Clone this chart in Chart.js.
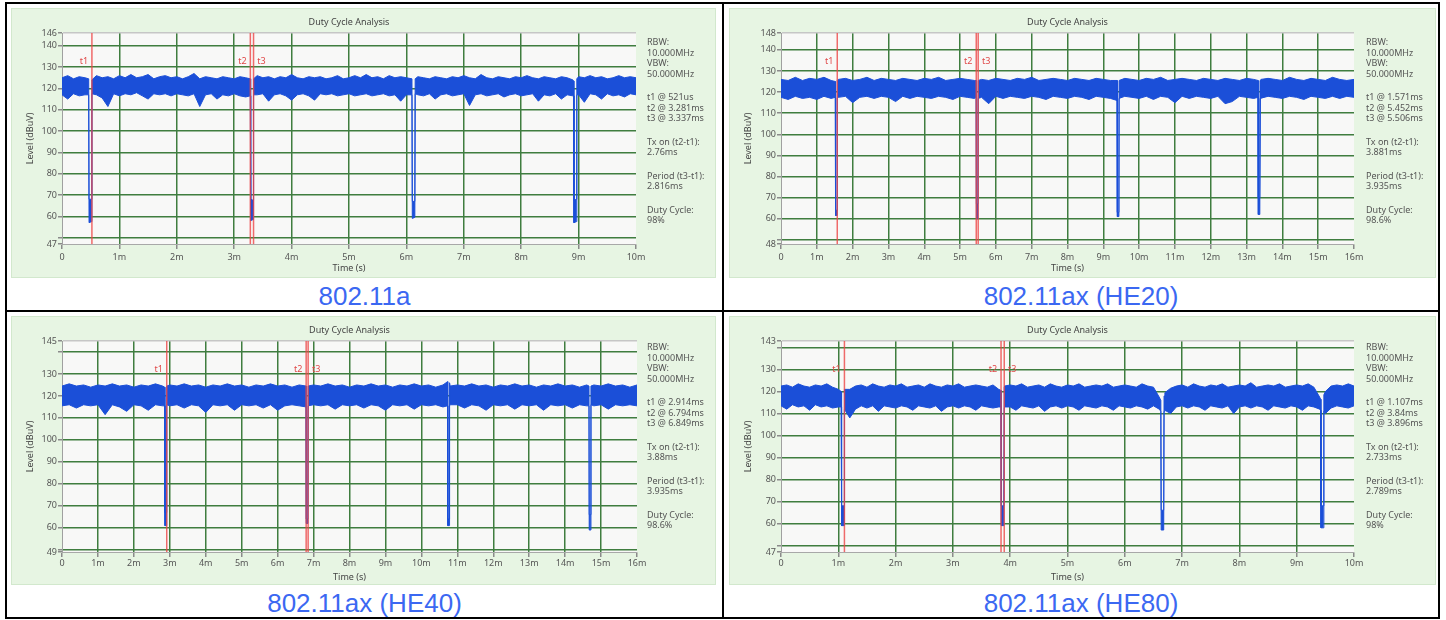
<!DOCTYPE html>
<html lang="en">
<head>
<meta charset="UTF-8" />
<title>Duty Cycle Analysis</title>
<script src="https://cdn.jsdelivr.net/npm/chart.js"></script>
<style>
  body { margin: 0; width: 1446px; height: 620px; background: #fff; position: relative; overflow: hidden; font-family: 'Noto Sans', sans-serif; }
  .rule { position: absolute; background: #000; }
  .notes { position: absolute; font-size: 9px; color: #555; white-space: nowrap; }
  .notes div { height: 10.5px; line-height: 10.5px; }
  .notes div.gap { height: 13px; }
  .caption { position: absolute; height: 30px; line-height: 30px; text-align: center; font-family: 'Liberation Sans', Arial, sans-serif; font-size: 26px; color: #3b68f2; }
</style>
</head>
<body>

<div class="rule" style="left:5px;top:2px;width:1435px;height:2px"></div>
<div class="rule" style="left:5px;top:617px;width:1435px;height:2px"></div>
<div class="rule" style="left:5px;top:2px;width:2px;height:617px"></div>
<div class="rule" style="left:1438px;top:2px;width:2px;height:617px"></div>
<div class="rule" style="left:722px;top:2px;width:2px;height:617px"></div>
<div class="rule" style="left:5px;top:310px;width:1435px;height:2px"></div>

<script>
// ---- 802.11a ----
const aT  = [0,0.1,0.2,0.3,0.4,0.465,0.471,0.515,0.521,
  0.6,0.7,0.8,0.9,1.0,1.1,1.2,1.3,1.4,1.5,1.6,1.7,1.8,1.9,2.0,2.1,2.2,2.3,2.4,2.5,2.6,2.7,2.8,2.9,3.0,3.1,3.2,
  3.281,3.287,3.331,3.337,
  3.4,3.5,3.6,3.7,3.8,3.9,4.0,4.1,4.2,4.3,4.4,4.5,4.6,4.7,4.8,4.9,5.0,5.1,5.2,5.3,5.4,5.5,5.6,5.7,5.8,5.9,6.0,
  6.097,6.103,6.147,6.153,
  6.2,6.3,6.4,6.5,6.6,6.7,6.8,6.9,7.0,7.1,7.2,7.3,7.4,7.5,7.6,7.7,7.8,7.9,8.0,8.1,8.2,8.3,8.4,8.5,8.6,8.7,8.8,8.9,
  8.913,8.919,8.963,8.969,
  9.0,9.1,9.2,9.3,9.4,9.5,9.6,9.7,9.8,9.9,10.0];
const aHi = [125,126,124.5,125.5,125,124.5,68,68,124,
  126,125,125.5,124.5,126,125,126.5,125,125.5,126.5,124.5,125.5,126,125,125.5,124.5,125.5,127,124.5,125.5,125,124.5,125.5,125,124.5,125.5,125,
  124.5,68,67.5,124.5,
  126,125,125.5,124.5,125.5,125,126.5,125,124.5,125.5,125,125.5,124.5,125,126,124.5,125,126,125,126.5,125,125.5,124.5,126,125,125.5,125,
  124.5,67,67,124.5,
  125.5,125,124.5,125.5,125,124.5,125.5,125,126,125,124.5,126.5,125,124.5,125.5,125,124.5,125.5,125,126,125,124.5,125.5,125,124.5,125.5,125,124,
  123.5,67.5,68,124.5,
  125.5,125,126,125,125.5,124.5,125,126,125,125.5,125];
const aLo = [117,115,117.5,116.5,117,117,57,57.5,117.5,
  117,115.5,111.5,117.5,116.5,117.5,117,118,116.5,115,117.5,117,117.5,116.5,117.5,117,116.5,117.5,111.5,117,117.5,115,117,116.5,117.5,116.5,116,
  116.5,58,58.5,117,
  117,117.5,114,117,117.5,116.5,114.5,117,117.5,116.5,114.5,117.5,117,117.5,116.5,117,117.5,116.5,117,117.5,116.5,117,117.5,116.5,117,114,117,
  117,59,59.5,117.5,
  117,116.5,117.5,115,117,117.5,116.5,117,117.5,112,117,117.5,116.5,117,117.5,116,117,117.5,116.5,117,117.5,114,117,116.5,117.5,115,117,116.5,
  116.5,57,57.5,117,
  117,113.5,117.5,117,115,117.5,116.5,117,116,117.5,117];
const aMarks = [0.521, 3.281, 3.337];
const aYTicks = [47,50,60,70,80,90,100,110,120,130,140,146];
const aYLabels = ['47','','60','70','80','90','100','110','120','130','140','146'];
const aNotes = ['RBW:','10.000MHz','VBW:','50.000MHz','','t1 @ 521us','t2 @ 3.281ms','t3 @ 3.337ms','','Tx on (t2-t1):','2.76ms','','Period (t3-t1):','2.816ms','','Duty Cycle:','98%'];

// ---- 802.11ax (HE20) ----
const bT  = [0,0.2,0.4,0.6,0.8,1.0,1.2,1.4,
  1.517,1.523,1.565,1.571,
  1.6,1.8,2.0,2.2,2.4,2.6,2.8,3.0,3.2,3.4,3.6,3.8,4.0,4.2,4.4,4.6,4.8,5.0,5.2,5.4,
  5.452,5.458,5.5,5.506,
  5.6,5.8,6.0,6.2,6.4,6.6,6.8,7.0,7.2,7.4,7.6,7.8,8.0,8.2,8.4,8.6,8.8,9.0,9.2,
  9.387,9.393,9.435,9.441,
  9.6,9.8,10.0,10.2,10.4,10.6,10.8,11.0,11.2,11.4,11.6,11.8,12.0,12.2,12.4,12.6,12.8,13.0,13.2,
  13.322,13.328,13.37,13.376,
  13.4,13.6,13.8,14.0,14.2,14.4,14.6,14.8,15.0,15.2,15.4,15.6,15.8,16.0];
const bHi = [126,125.5,127,125.5,126.5,126,127,125.5,
  125,64,64,125.5,
  126,126.5,125.5,126,127,125.5,126.5,126,125.5,126.5,126,125.5,126.5,126,127,125.5,126,126.5,126,125.5,
  125.5,67,67,125.5,
  126,125.5,126.5,126,125.5,126.5,126,127,125.5,126,126.5,126,125.5,126.5,126,125.5,126.5,126,125.5,
  125.5,63,63,125.5,
  126.5,126,125.5,126.5,126,127,125.5,126,126.5,126,125.5,126.5,126,125.5,126.5,126,125.5,126.5,126,
  125.5,70,70,125.5,
  126,126.5,126,125.5,127,126,125.5,126.5,126,125.5,127,126,125.5,126];
const bLo = [117.5,116.5,118,117,117.5,116.5,118,117,
  117.5,61.5,61.5,117,
  117.5,118,115,117.5,118,117,118,117.5,115.5,118,117,118,117.5,117,118,117.5,116.5,118,117.5,117,
  117.5,60,60,117,
  117.5,114.5,118,117,118,117.5,117,118,117.5,116.5,118,117.5,117,118,117.5,116.5,118,117.5,117,
  116,61,61,117,
  118,117.5,117,118,116.5,118,117.5,115,118,117,118,117.5,117,118,114.5,115.5,118,117.5,117,
  117.5,62,62,117,
  117,118,117.5,117,118,117.5,116.5,118,117.5,117,118,117,118,117.5];
const bMarks = [1.571, 5.452, 5.506];
const bYTicks = [48,50,60,70,80,90,100,110,120,130,140,148];
const bYLabels = ['48','','60','70','80','90','100','110','120','130','140','148'];
const bNotes = ['RBW:','10.000MHz','VBW:','50.000MHz','','t1 @ 1.571ms','t2 @ 5.452ms','t3 @ 5.506ms','','Tx on (t2-t1):','3.881ms','','Period (t3-t1):','3.935ms','','Duty Cycle:','98.6%'];

// ---- 802.11ax (HE40) ----
const cT  = [0,0.2,0.4,0.6,0.8,1.0,1.2,1.4,1.6,1.8,2.0,2.2,2.4,2.6,2.8,
  2.859,2.865,2.908,2.914,
  3.0,3.2,3.4,3.6,3.8,4.0,4.2,4.4,4.6,4.8,5.0,5.2,5.4,5.6,5.8,6.0,6.2,6.4,6.6,
  6.794,6.8,6.843,6.849,
  7.0,7.2,7.4,7.6,7.8,8.0,8.2,8.4,8.6,8.8,9.0,9.2,9.4,9.6,9.8,10.0,10.2,10.4,10.6,
  10.729,10.735,10.778,10.784,
  10.8,11.0,11.2,11.4,11.6,11.8,12.0,12.2,12.4,12.6,12.8,13.0,13.2,13.4,13.6,13.8,14.0,14.2,14.4,14.6,
  14.664,14.67,14.713,14.719,
  14.8,15.0,15.2,15.4,15.6,15.8,16.0];
const cHi = [124.5,125.5,124.5,125,124,125,124.5,125.5,124.5,125,124,125,124.5,125.5,124.5,
  124,67,67,124.5,
  125,124.5,125.5,124.5,125,124,125,124.5,125.5,124.5,125,124,125,124.5,125.5,124.5,125,124,125,
  124.5,64,64,124.5,
  125,124.5,125.5,124.5,125,124,125,124.5,125.5,124.5,125,124,125,124.5,125.5,124.5,125,124,125,
  126.5,64,64,126,
  124.5,125,124.5,125.5,124.5,125,124,125,124.5,125.5,124.5,125,124,125,124.5,125.5,124.5,125,124,125,
  124.5,66,66,124.5,
  125,124.5,125.5,124.5,125,124,125];
const cLo = [115.5,116,114.5,116,115.5,116,111.5,116,115,113,116,115.5,113.5,116,115.5,
  115.5,61,61,116,
  115.5,116,114.5,116,115.5,112.5,116,115.5,116,113.5,116,115.5,116,114.5,116,113.5,115.5,116,115.5,
  115,62,62,115.5,
  116,115.5,116,114,116,115.5,116,114.5,116,115.5,113.5,116,115.5,116,114,116,115.5,116,115,
  115.5,61,61,115.5,
  116,116,114.5,116,115.5,113.5,116,115.5,116,114,116,115.5,116,113.5,116,115.5,116,114.5,116,115.5,
  115.5,59,59,116,
  115.5,116,114,116,115.5,116,115.5];
const cMarks = [2.914, 6.794, 6.849];
const cYTicks = [49,50,60,70,80,90,100,110,120,130,140,145];
const cYLabels = ['49','','60','70','80','90','100','110','120','130','','145'];
const cNotes = ['RBW:','10.000MHz','VBW:','50.000MHz','','t1 @ 2.914ms','t2 @ 6.794ms','t3 @ 6.849ms','','Tx on (t2-t1):','3.88ms','','Period (t3-t1):','3.935ms','','Duty Cycle:','98.6%'];

// ---- 802.11ax (HE80) ----
const dT  = [0,0.1,0.2,0.3,0.4,0.5,0.6,0.7,0.8,0.9,1.0,
  1.051,1.057,1.101,1.107,
  1.2,1.3,1.4,1.5,1.6,1.7,1.8,1.9,2.0,2.1,2.2,2.3,2.4,2.5,2.6,2.7,2.8,2.9,3.0,3.1,3.2,3.3,3.4,3.5,3.6,3.7,3.8,
  3.84,3.846,3.89,3.896,
  3.9,4.0,4.1,4.2,4.3,4.4,4.5,4.6,4.7,4.8,4.9,5.0,5.1,5.2,5.3,5.4,5.5,5.6,5.7,5.8,5.9,6.0,6.1,6.2,6.3,6.4,6.5,6.6,
  6.629,6.635,6.679,6.685,
  6.7,6.8,6.9,7.0,7.1,7.2,7.3,7.4,7.5,7.6,7.7,7.8,7.9,8.0,8.1,8.2,8.3,8.4,8.5,8.6,8.7,8.8,8.9,9.0,9.1,9.2,9.3,9.4,
  9.418,9.424,9.468,9.474,
  9.5,9.6,9.7,9.8,9.9,10.0];
const dHi = [122.5,123,122,123.5,122.5,122,123,122.5,123.5,122,121,
  120,68,68,121,
  121,122.5,123,122,123.5,122.5,122,123,122.5,123.5,122,122.5,123,122,123.5,122.5,122,123,122.5,123.5,122,122.5,123,122.5,122,123,121,
  120.5,68,68,122,
  122.5,123,122.5,123.5,122,122.5,123,122,123.5,122.5,122,123,122.5,123.5,122,122.5,123,122.5,123.5,122,122.5,123,122.5,122,123.5,122.5,122,117.5,
  116,66,66,118,
  119.5,121.5,122.5,123,122,123.5,122.5,122,123,122.5,123.5,122,122.5,123,122.5,124,122,122.5,123,122.5,123.5,122,122.5,123,122.5,123.5,122,117.5,
  116.5,68,68,118.5,
  120,122.5,123,122.5,123.5,122.5];
const dLo = [113.5,112,114,113,113.5,111.5,114,113,113.5,112.5,113,
  113,59,59,112,
  108,112,113.5,112.5,113.5,111,113.5,113,112.5,113.5,113,111.5,113.5,113,112.5,113.5,111,113,113.5,112.5,113.5,113,111.5,113.5,113,112.5,113,
  113,59,59,112.5,
  113,113,111.5,113.5,113,112.5,113.5,111,113,113.5,112.5,113.5,113,111.5,113.5,113,112.5,113.5,113,111.5,113.5,113,112.5,113.5,113,112,113.5,112,
  111,57,57,111,
  111.5,110,113,113.5,112.5,113.5,113,111.5,113.5,113,112.5,113.5,110,113,113.5,112.5,113.5,113,111.5,113.5,113,112.5,113.5,113,111.5,113.5,113,112,
  111.5,58,58,111,
  110,112.5,113.5,113,112.5,113.5];
const dMarks = [1.107, 3.84, 3.896];
const dYTicks = [47,50,60,70,80,90,100,110,120,130,140,143];
const dYLabels = ['47','','60','70','80','90','100','110','120','130','','143'];
const dNotes = ['RBW:','10.000MHz','VBW:','50.000MHz','','t1 @ 1.107ms','t2 @ 3.84ms','t3 @ 3.896ms','','Tx on (t2-t1):','2.733ms','','Period (t3-t1):','2.789ms','','Duty Cycle:','98%'];

// shared axes
const x10Ticks = [0,1,2,3,4,5,6,7,8,9,10];
const x10Labels = ['0','1m','2m','3m','4m','5m','6m','7m','8m','9m','10m'];
const x16Ticks = [0,1,2,3,4,5,6,7,8,9,10,11,12,13,14,15,16];
const x16Labels = ['0','1m','2m','3m','4m','5m','6m','7m','8m','9m','10m','11m','12m','13m','14m','15m','16m'];
const markNames = ['t1', 't2', 't3'];
const captions = ['802.11a', '802.11ax (HE20)', '802.11ax (HE40)', '802.11ax (HE80)'];

const BLUE = '#1b4fd8';
const RED = 'rgba(236, 70, 70, 0.8)';
const GRID = '#3f7d3f';

Chart.defaults.font.family = "'Noto Sans', sans-serif";
Chart.defaults.font.size = 9;

function pts(t, v) {
  return t.map((x, i) => ({ x: x, y: v[i] }));
}

// green panel, light plot area and the t1/t2/t3 labels
const panelPlugin = {
  id: 'panel',
  beforeDraw(chart) {
    const { ctx, chartArea: a, width, height } = chart;
    ctx.save();
    ctx.fillStyle = '#e7f5e3';
    ctx.fillRect(0, 0, width, height);
    ctx.strokeStyle = '#d2e8cd';
    ctx.strokeRect(0.5, 0.5, width - 1, height - 1);
    ctx.fillStyle = '#f8f8f7';
    ctx.fillRect(a.left, a.top, a.right - a.left, a.bottom - a.top);
    ctx.restore();
  },
  afterDatasetsDraw(chart, args, opts) {
    const { ctx, chartArea: a, scales: { x } } = chart;
    ctx.save();
    ctx.fillStyle = '#e04848';
    ctx.font = "9px 'Noto Sans'";
    ctx.textAlign = 'center';
    ctx.textBaseline = 'middle';
    opts.marks.forEach((m, i) => {
      const px = x.getPixelForValue(m);
      ctx.fillText(markNames[i], px + (i === 2 ? 8 : -8), a.top + 28);
    });
    ctx.restore();
  }
};

const charts = [
  { t: aT, hi: aHi, lo: aLo, marks: aMarks, yMin: 47, yMax: 146, yTicks: aYTicks, yLabels: aYLabels, xMax: 10, xTicks: x10Ticks, xLabels: x10Labels, notes: aNotes,
    panel: [11, 8, 705, 270], plot: [62, 33, 636, 244], sp: { tt: 8.6, tb: 5.6, xp: 2.6, xt: 4.6, yt: 13.6 }, note: [647, 37], cap: [7, 281, 715] },
  { t: bT, hi: bHi, lo: bLo, marks: bMarks, yMin: 48, yMax: 148, yTicks: bYTicks, yLabels: bYLabels, xMax: 16, xTicks: x16Ticks, xLabels: x16Labels, notes: bNotes,
    panel: [729, 8, 707, 270], plot: [781, 33, 1354, 244], sp: { tt: 8.6, tb: 5.6, xp: 2.6, xt: 4.6, yt: 13.6 }, note: [1366, 37], cap: [724, 281, 714] },
  { t: cT, hi: cHi, lo: cLo, marks: cMarks, yMin: 49, yMax: 145, yTicks: cYTicks, yLabels: cYLabels, xMax: 16, xTicks: x16Ticks, xLabels: x16Labels, notes: cNotes,
    panel: [11, 316, 705, 269], plot: [62, 341, 637, 552], sp: { tt: 9.3, tb: 4.9, xp: 0.9, xt: 2.3, yt: 13.6 }, note: [647, 342], cap: [7, 588, 715] },
  { t: dT, hi: dHi, lo: dLo, marks: dMarks, yMin: 47, yMax: 143, yTicks: dYTicks, yLabels: dYLabels, xMax: 10, xTicks: x10Ticks, xLabels: x10Labels, notes: dNotes,
    panel: [729, 316, 707, 269], plot: [781, 341, 1354, 552], sp: { tt: 9.3, tb: 4.9, xp: 0.9, xt: 2.3, yt: 13.6 }, note: [1366, 342], cap: [724, 588, 714] }
];

function draw(c, k) {
  const P = c.panel, A = c.plot, s = c.sp;
  const cv = document.createElement('canvas');
  cv.width = P[2];
  cv.height = P[3];
  cv.style.cssText = 'position:absolute;left:' + P[0] + 'px;top:' + P[1] + 'px';
  document.body.appendChild(cv);

  const lines = c.marks.map(m => ({
    data: [{ x: m, y: c.yMin }, { x: m, y: c.yMax }],
    borderColor: RED, borderWidth: 1.5, pointRadius: 0, fill: false, order: 1
  }));

  new Chart(cv, {
    type: 'line',
    data: {
      datasets: [
        { data: pts(c.t, c.lo), borderColor: BLUE, borderWidth: 1, pointRadius: 0, fill: false, order: 2 },
        { data: pts(c.t, c.hi), borderColor: BLUE, backgroundColor: BLUE, borderWidth: 1, pointRadius: 0, fill: '-1', order: 2 }
      ].concat(lines)
    },
    options: {
      responsive: false,
      animation: false,
      devicePixelRatio: 1,
      events: [],
      layout: { padding: { left: 0, top: 0, bottom: 0, right: P[0] + P[2] - A[2] } },
      plugins: {
        legend: { display: false },
        tooltip: { enabled: false },
        title: { display: true, text: 'Duty Cycle Analysis', fullSize: false, color: '#444', font: { size: 9, weight: 'normal' }, padding: { top: s.tt, bottom: s.tb } },
        panel: { marks: c.marks }
      },
      scales: {
        x: {
          type: 'linear', min: 0, max: c.xMax,
          afterBuildTicks: sc => { sc.ticks = c.xTicks.map(v => ({ value: v })); },
          afterFit: sc => { sc.height = P[1] + P[3] - A[3]; },
          ticks: { autoSkip: false, maxRotation: 0, padding: s.xp, color: '#555', callback: (v, i) => c.xLabels[i] },
          grid: {
            color: g => (g.tick && (g.tick.value === 0 || g.tick.value === c.xMax)) ? 'rgba(0,0,0,0)' : GRID,
            lineWidth: 1.5, tickLength: 5, tickColor: '#8a8a8a'
          },
          border: { color: '#a8a8a8', width: 1 },
          title: { display: true, text: 'Time (s)', color: '#444', padding: { top: 0, bottom: s.xt } }
        },
        y: {
          type: 'linear', min: c.yMin, max: c.yMax,
          afterBuildTicks: sc => { sc.ticks = c.yTicks.map(v => ({ value: v })); },
          afterFit: sc => { sc.width = A[0] - P[0]; },
          ticks: { autoSkip: false, padding: 1, color: '#555', callback: (v, i) => c.yLabels[i] },
          grid: {
            color: g => !g.tick ? GRID : g.tick.value === c.yMax ? '#c6c6c6' : g.tick.value === c.yMin ? 'rgba(0,0,0,0)' : GRID,
            lineWidth: 1.5, tickLength: 4, tickColor: '#8a8a8a'
          },
          border: { color: '#a0a0a0', width: 1 },
          title: { display: true, text: 'Level (dBuV)', color: '#444', padding: { top: s.yt, bottom: 0 } }
        }
      }
    },
    plugins: [panelPlugin]
  });

  // side notes
  const box = document.createElement('div');
  box.className = 'notes';
  box.style.left = c.note[0] + 'px';
  box.style.top = c.note[1] + 'px';
  c.notes.forEach(n => {
    const d = document.createElement('div');
    if (n === '') d.className = 'gap'; else d.textContent = n;
    box.appendChild(d);
  });
  document.body.appendChild(box);

  const cap = document.createElement('div');
  cap.className = 'caption';
  cap.style.left = c.cap[0] + 'px';
  cap.style.top = c.cap[1] + 'px';
  cap.style.width = c.cap[2] + 'px';
  cap.textContent = captions[k];
  document.body.appendChild(cap);
}

charts.forEach(draw);
</script>
</body>
</html>
